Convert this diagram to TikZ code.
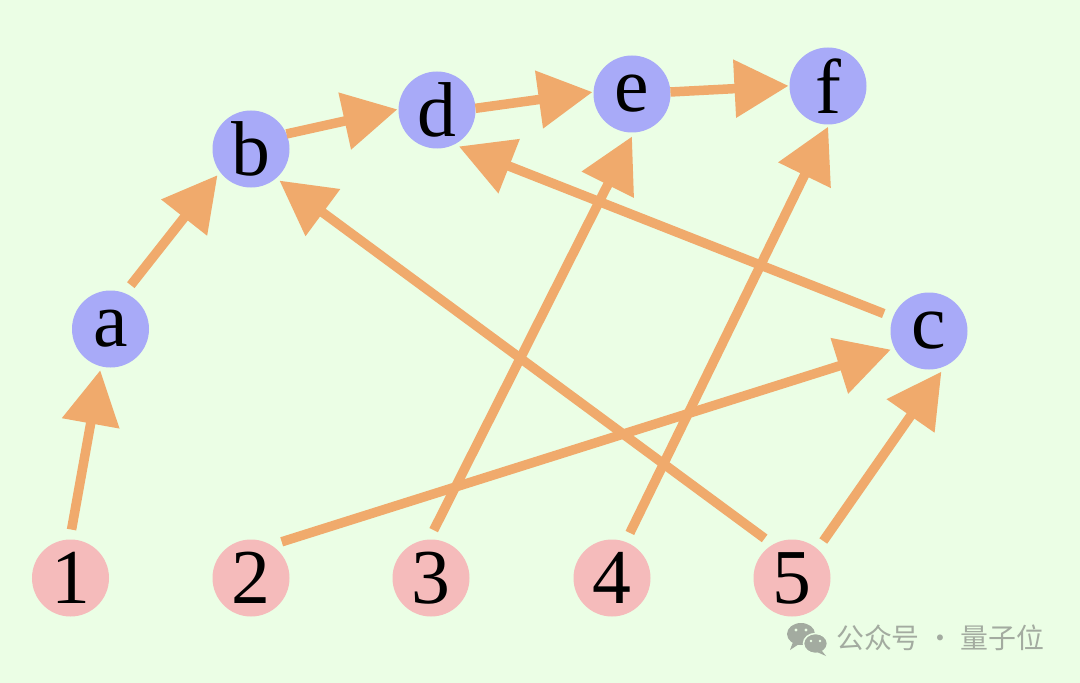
\documentclass[tikz,border=0pt]{standalone}
\usepackage{fontspec}
\setmainfont{Liberation Serif}
\newfontfamily\cjkfont{Noto Sans CJK SC}
\usetikzlibrary{arrows.meta}
\definecolor{bgc}{HTML}{EBFEE5}
\definecolor{bluec}{HTML}{A8AAF8}
\definecolor{pinkc}{HTML}{F5BBBB}
\definecolor{orangec}{HTML}{F0AA6C}
\definecolor{wmgray}{HTML}{A3ABA0}
\tikzset{
  vnode/.style={circle, minimum size=77bp, inner sep=0pt, outer sep=4bp,
    font=\fontsize{78}{80}\selectfont, text=black},
  topnode/.style={vnode, fill=bluec},
  botnode/.style={vnode, fill=pinkc},
  edge/.style={draw=orangec, line width=9.5bp, shorten <=6bp,
    -{Triangle[length=54bp,width=56bp]}},
  chain/.style={edge, shorten <=-4bp, shorten >=-3bp},
}
\begin{document}
\begin{tikzpicture}[x=1bp,y=-1bp]
\fill[bgc] (0,0) rectangle (1080,683);
\useasboundingbox (0,0) rectangle (1080,683);
% bottom row
\node[botnode] (n1) at (70.5,578) {1};
\node[botnode] (n2) at (251,578) {2};
\node[botnode] (n3) at (431,578) {3};
\node[botnode] (n4) at (612,578) {4};
\node[botnode] (n5) at (792,578) {5};
% top nodes
\node[topnode] (a) at (110.5,329) {a};
\node[topnode] (b) at (251,149) {b};
\node[topnode] (d) at (437,110) {d};
\node[topnode] (e) at (632,94) {e};
\node[topnode] (f) at (828,86) {f};
\node[topnode] (c) at (929,331) {c};
% edges
\draw[edge] (n1.90) -- (a.-104);
\draw[edge] (a.67) -- (b.-142);
\draw[chain] (b.22) -- (d.180);
\draw[chain] (d.3) -- (e.178);
\draw[chain] (e.3) -- (f.180);
\draw[edge] (n2.54) -- (c.206);
\draw[edge] (n3.90) -- (e.-90);
\draw[edge, shorten >=-2bp] (n4.69) -- (f.-91);
\draw[edge] (n5.122) -- (b.-48);
\draw[edge] (n5.49) -- (c.-73);
\draw[edge] (c.159) -- (d.-59);
% watermark
\fill[wmgray] (801,634) ellipse [x radius=14, y radius=11];
\fill[wmgray] (793,642) -- (790,650) -- (799,644) -- cycle;
\draw[bgc, line width=1.5bp, fill=wmgray] (815.5,643.5) ellipse [x radius=12, y radius=10];
\fill[wmgray] (822,651) -- (826,656) -- (817,652) -- cycle;
\fill[bgc] (796,630) circle (1.6);
\fill[bgc] (806,630) circle (1.6);
\fill[bgc] (811,641) circle (1.4);
\fill[bgc] (820,641) circle (1.4);
\node[anchor=west, inner sep=0pt, text=wmgray, font=\cjkfont\fontsize{28}{30}\selectfont] (wm) at (836,638) {公众号 · 量子位};
\end{tikzpicture}
\end{document}
